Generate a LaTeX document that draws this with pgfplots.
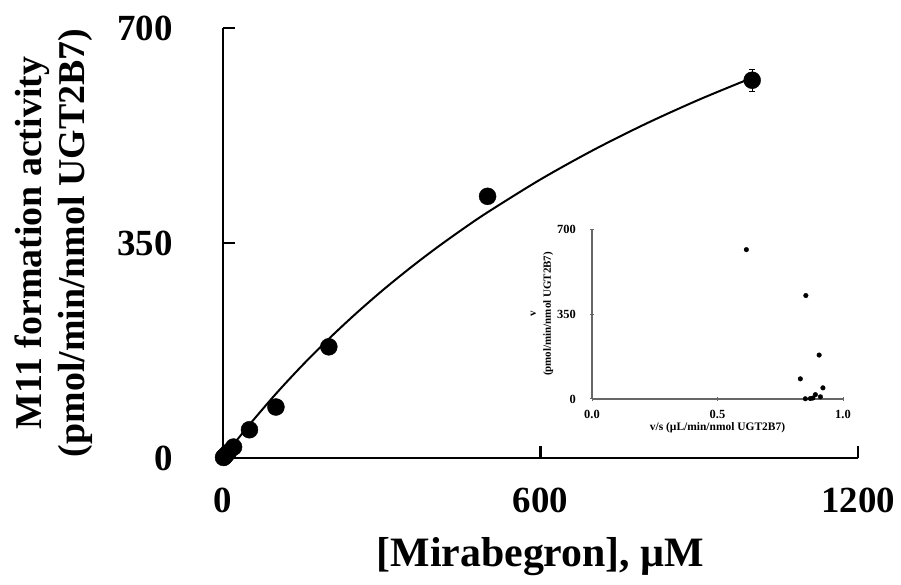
\documentclass[border=0pt]{standalone}
\usepackage{fontspec}
\setmainfont{Liberation Serif}
\usepackage{pgfplots}
\pgfplotsset{compat=1.18}
\begin{document}
\begin{tikzpicture}
\path[use as bounding box] (-223bp,-127bp) rectangle (678bp,458bp);
\begin{axis}[
  at={(0bp,0bp)}, anchor=origin,
  scale only axis, width=635bp, height=430bp,
  xmin=0, xmax=1200, ymin=0, ymax=700,
  axis x line=bottom, axis y line=left,
  axis line style={-, line width=2.4bp, black},
  xtick={0,600,1200}, ytick={0,350,700},
  tick align=inside, major tick length=12bp,
  tick style={line width=2.4bp, black},
  minor tick num=0,
  clip=false,
  /pgf/number format/assume math mode=true,
  /pgf/number format/1000 sep={},
  tick label style={font=\fontsize{37}{37}\selectfont\bfseries},
  yticklabel style={anchor=east, inner sep=0pt, xshift=-50bp},
  xticklabel style={anchor=north, inner sep=0pt, yshift=-30bp},
  every axis y label/.style={at={(axis description cs:0,0.5)}, anchor=center, rotate=90, yshift=169bp, align=center, font=\fontsize{38}{43}\selectfont\bfseries},
  every axis x label/.style={at={(axis description cs:0.5,0)}, anchor=center, yshift=-99bp, font=\fontsize{42}{43}\selectfont\bfseries},
  ylabel={M11 formation activity\\(pmol/min/nmol UGT2B7)},
  xlabel={[Mirabegron], µM},
]
\addplot[line width=2bp, smooth, black] coordinates {
 (0,0) (25,27.7) (50,54.3) (100,104.5) (150,150.9) (200,194.0) (250,234.2)
 (300,271.8) (350,306.9) (400,339.9) (450,370.8) (500,400.0) (600,453.5)
 (700,501.4) (800,544.5) (900,583.5) (1000,619.0)};
\addplot[only marks, mark=*, mark size=8.5bp, black,
  error bars/.cd, y dir=both, y explicit,
  error bar style={line width=1.2bp},
  error mark options={line width=1.2bp, mark size=3bp, rotate=90}] coordinates {
 (1,0.9) +- (0,0) (2.5,2.1) +- (0,0) (5,4.4) +- (0,0) (10,9.1) +- (0,0)
 (20,17.8) +- (0,0) (50,46) +- (0,0) (100,83) +- (0,0) (200,181) +- (0,0)
 (500,426) +- (0,0) (1000,615) +- (0,18)};
\end{axis}
\begin{axis}[
  at={(369bp,59bp)}, anchor=origin,
  scale only axis, width=251bp, height=170bp,
  xmin=0, xmax=1, ymin=0, ymax=700,
  axis x line=bottom, axis y line=left,
  axis line style={-, line width=1.2bp, black!60},
  xtick={0,0.5,1}, ytick={0,350,700},
  tick align=center, major tick length=4bp,
  tick style={line width=1bp, black!60},
  clip=false,
  /pgf/number format/assume math mode=true,
  xticklabel={\pgfmathprintnumber[fixed, fixed zerofill, precision=1]{\tick}},
  tick label style={font=\fontsize{12.5}{12.5}\selectfont\bfseries},
  yticklabel style={anchor=east, inner sep=0pt, xshift=-14bp},
  xticklabel style={anchor=north, inner sep=0pt, yshift=-9bp},
  every axis y label/.style={at={(axis description cs:0,0.5)}, anchor=center, rotate=90, yshift=50bp, align=center, font=\fontsize{11}{15}\selectfont\bfseries},
  every axis x label/.style={at={(axis description cs:0.5,0)}, anchor=center, yshift=-29bp, font=\fontsize{11.5}{12}\selectfont\bfseries},
  ylabel={v\\(pmol/min/nmol UGT2B7)},
  xlabel={v/s (µL/min/nmol UGT2B7)},
]
\addplot[only marks, mark=*, mark size=2.3bp, black] coordinates {
 (0.85,1) (0.87,2) (0.88,4) (0.91,9) (0.89,18) (0.92,46) (0.83,83)
 (0.905,181) (0.852,426) (0.615,615)};
\end{axis}
\end{tikzpicture}
\end{document}
